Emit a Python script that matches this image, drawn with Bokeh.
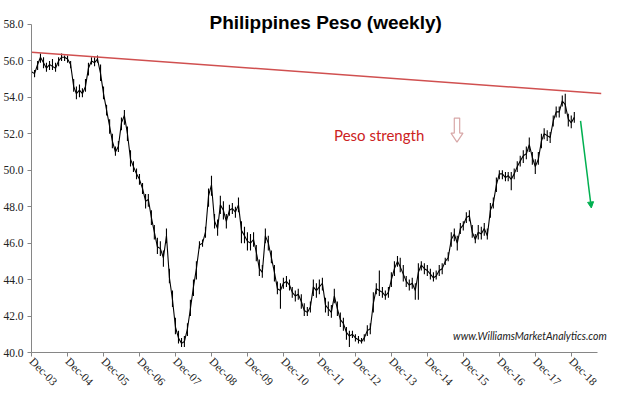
import math
import pandas as pd
from bokeh.plotting import figure
from bokeh.models import (FixedTicker, DatetimeTickFormatter, NumeralTickFormatter,
                          Label, Arrow, NormalHead, Range1d, ColumnDataSource)
from bokeh.embed import file_html
from bokeh.resources import INLINE

# ---------------- data (monthly) ----------------
start_month = "2003-12-01"
close = [
    55.4, 55.3, 55.8, 56.2, 55.9, 55.6, 55.8, 55.7, 55.6, 56.0, 56.2, 56.2,
    56.1, 55.8, 54.6, 54.2, 54.4, 54.2, 54.6, 55.6, 56.0, 55.9, 56.1, 55.3,
    54.2, 53.3, 52.4, 51.6, 51.0, 51.3, 52.6, 53.0, 52.0, 50.6, 50.2, 49.8,
    49.5, 49.0, 48.3, 48.4, 47.4, 46.6, 45.8, 45.7, 45.2, 46.4, 44.1, 42.9,
    41.4, 40.8, 40.5, 40.6, 41.3, 42.4, 43.6, 44.6, 45.9, 46.0, 46.6, 48.6,
    49.2, 47.2, 46.8, 48.1, 47.8, 47.2, 47.8, 47.9, 47.7, 48.1, 46.7, 46.4,
    46.1, 46.0, 46.2, 45.5, 44.6, 44.4, 46.4, 46.0, 45.2, 44.4, 43.5, 43.4,
    43.8, 43.9, 43.7, 43.3, 43.1, 43.2, 42.8, 42.3, 42.2, 42.5, 43.6, 43.4,
    43.6, 43.8, 42.6, 42.4, 42.2, 43.1, 42.4, 41.8, 41.6, 41.1, 40.9, 41.0,
    40.8, 40.7, 40.6, 40.8, 41.2, 41.3, 42.7, 43.5, 43.4, 43.3, 43.1, 43.3,
    44.0, 44.6, 45.0, 44.7, 44.3, 43.9, 43.7, 43.8, 43.4, 44.4, 44.8, 44.6,
    44.5, 44.3, 44.1, 44.2, 44.5, 44.6, 45.0, 45.2, 46.2, 46.5, 46.0, 46.8,
    47.0, 47.4, 47.5, 46.6, 46.2, 46.6, 46.5, 46.8, 46.4, 47.8, 48.2, 49.2,
    49.8, 49.8, 49.6, 49.7, 49.5, 49.8, 50.2, 50.5, 50.8, 50.9, 51.4, 50.7,
    50.2, 50.6, 51.6, 52.0, 51.9, 51.8, 52.7, 53.2, 53.2, 53.8, 53.6, 52.8,
    52.6, 52.9,
]
high = [
    55.6, 55.5, 56.0, 56.4, 56.2, 55.9, 56.0, 56.1, 55.9, 56.2, 56.4, 56.3,
    56.3, 56.0, 55.0, 54.6, 54.7, 54.5, 55.0, 55.9, 56.2, 56.2, 56.3, 55.8,
    54.6, 53.6, 52.8, 52.0, 51.3, 51.6, 52.9, 53.3, 52.4, 51.1, 50.5, 50.1,
    49.8, 49.3, 48.7, 48.7, 47.8, 47.0, 46.3, 46.1, 45.6, 46.8, 44.6, 43.4,
    41.9, 41.2, 40.8, 40.9, 41.6, 42.9, 44.0, 45.0, 46.1, 46.2, 46.9, 49.0,
    49.7, 47.6, 47.3, 48.6, 48.3, 47.6, 48.1, 48.2, 48.0, 48.5, 47.2, 46.9,
    46.6, 46.5, 46.6, 45.9, 45.1, 44.8, 46.8, 46.4, 45.6, 44.8, 43.9, 43.8,
    44.1, 44.2, 44.0, 43.6, 43.4, 43.5, 43.2, 42.7, 42.5, 42.8, 44.0, 43.8,
    44.0, 44.1, 43.0, 42.8, 42.6, 43.5, 42.8, 42.2, 41.9, 41.4, 41.2, 41.2,
    41.0, 40.9, 40.8, 41.0, 41.5, 41.6, 43.3, 43.8, 44.5, 43.6, 43.4, 43.6,
    44.4, 45.0, 45.3, 45.2, 44.8, 44.2, 44.0, 44.1, 43.8, 44.9, 45.0, 44.9,
    44.8, 44.6, 44.4, 44.5, 44.8, 44.9, 45.2, 45.5, 46.6, 46.8, 46.4, 47.1,
    47.2, 47.7, 47.8, 47.0, 46.5, 47.0, 46.9, 47.1, 46.8, 48.2, 48.5, 49.6,
    50.0, 50.0, 49.9, 49.9, 49.9, 50.1, 50.5, 50.8, 51.1, 51.3, 51.8, 51.0,
    50.6, 51.0, 52.0, 52.3, 52.2, 52.1, 53.0, 53.5, 53.5, 54.1, 54.2, 53.1,
    53.0, 53.2,
]
low = [
    55.2, 55.1, 55.5, 55.9, 55.6, 55.4, 55.5, 55.5, 55.4, 55.7, 56.0, 56.0,
    55.9, 55.6, 54.3, 53.9, 54.0, 54.0, 54.3, 55.2, 55.8, 55.7, 55.9, 54.9,
    53.9, 53.0, 52.0, 51.2, 50.8, 51.0, 52.2, 52.5, 51.6, 50.2, 49.9, 49.5,
    49.2, 48.7, 47.9, 48.0, 47.0, 46.2, 45.4, 45.3, 44.7, 46.0, 43.8, 42.5,
    41.0, 40.5, 40.3, 40.3, 40.9, 42.0, 43.1, 44.0, 45.7, 45.8, 46.3, 48.0,
    48.6, 46.8, 46.4, 47.6, 47.3, 46.8, 47.5, 47.6, 47.4, 47.7, 46.0, 46.0,
    45.6, 45.6, 45.8, 45.0, 44.2, 44.1, 46.0, 45.6, 44.9, 43.9, 43.2, 42.4,
    43.5, 43.6, 43.4, 43.0, 42.8, 42.9, 42.4, 42.0, 42.0, 42.2, 43.1, 43.0,
    43.2, 43.4, 42.2, 42.0, 41.9, 42.7, 42.0, 41.4, 41.2, 40.7, 40.3, 40.8,
    40.6, 40.5, 40.5, 40.6, 40.9, 41.0, 42.2, 43.2, 43.1, 43.0, 42.9, 43.0,
    43.6, 44.2, 44.7, 44.4, 43.9, 43.6, 43.4, 43.5, 42.9, 42.9, 44.5, 44.3,
    44.2, 44.0, 43.9, 44.0, 44.2, 44.3, 44.8, 45.0, 45.8, 46.1, 45.6, 46.5,
    46.7, 47.1, 47.2, 46.3, 46.0, 46.2, 46.2, 46.4, 46.2, 47.4, 47.9, 48.8,
    49.5, 49.5, 49.4, 49.4, 48.9, 49.5, 49.9, 50.2, 50.4, 50.6, 51.0, 50.3,
    49.8, 50.3, 51.2, 51.7, 51.6, 51.5, 52.4, 52.9, 52.9, 53.5, 53.1, 52.4,
    52.3, 52.6,
]
tick_labels = ["Dec-03", "Dec-04", "Dec-05", "Dec-06", "Dec-07", "Dec-08", "Dec-09", "Dec-10",
               "Dec-11", "Dec-12", "Dec-13", "Dec-14", "Dec-15", "Dec-16", "Dec-17", "Dec-18"]
y_ticks = [40, 42, 44, 46, 48, 50, 52, 54, 56, 58]

# trend line (resistance) and projected move, in (months after Dec-03, level)
trend_months = [0.0, 190.0]
trend_levels = [56.48, 54.21]
proj_months = [183.1, 186.7]
proj_levels = [52.71, 47.93]

# ---------------------------------------------------------------------------
t0 = pd.Timestamp(start_month)
MONTH_MS = 365.25 / 12 * 86400000.0


def mdate(m):
    return t0.timestamp() * 1000.0 + m * MONTH_MS


dates = pd.date_range(start_month, periods=len(close), freq="MS")
src = ColumnDataSource(dict(date=dates, close=close, high=high, low=low))

tick_ms = [pd.Timestamp("20" + lab[-2:] + "-12-01").timestamp() * 1000.0 for lab in tick_labels]

p = figure(width=640, height=394, output_backend="svg", toolbar_location=None,
           x_axis_type="datetime",
           x_range=Range1d(mdate(0), mdate(203.1)), y_range=Range1d(40, 59.313),
           min_border_left=31, min_border_right=0, min_border_top=0, min_border_bottom=41)
p.outline_line_color = None
p.xgrid.visible = False
p.ygrid.visible = False
p.background_fill_color = "white"
p.border_fill_color = "white"

ax_col = "#868686"
for ax in (p.xaxis[0], p.yaxis[0]):
    ax.axis_line_color = ax_col
    ax.major_tick_line_color = ax_col
    ax.minor_tick_line_color = None
    ax.major_tick_out = 4
    ax.major_tick_in = 0
    ax.major_label_text_font = "Liberation Serif"
    ax.major_label_text_font_size = "11.5px"
    ax.major_label_text_color = "#222222"

p.yaxis.ticker = FixedTicker(ticks=y_ticks)
p.yaxis.formatter = NumeralTickFormatter(format="0.0")
p.yaxis.major_label_standoff = 4
p.yaxis.bounds = (40, 58)

p.xaxis.ticker = FixedTicker(ticks=tick_ms)
p.xaxis.formatter = DatetimeTickFormatter(days="%b-%y", months="%b-%y", years="%b-%y")
p.xaxis.major_label_orientation = -math.pi / 4
p.xaxis.major_label_standoff = 3
p.xaxis.bounds = (mdate(0), mdate(188.6))

# price bars + line
p.segment(x0="date", y0="low", x1="date", y1="high", source=src, line_color="black", line_width=1.1)
p.line(x="date", y="close", source=src, line_color="black", line_width=1.1)

# resistance trend line
p.line(x=[mdate(m) for m in trend_months], y=trend_levels, line_color="#D05050", line_width=1.5)

# green projection arrow
p.add_layout(Arrow(end=NormalHead(size=6, fill_color="#00B050", line_color="#00B050"),
                   x_start=mdate(proj_months[0]), y_start=proj_levels[0],
                   x_end=mdate(proj_months[1]), y_end=proj_levels[1],
                   line_color="#00B050", line_width=1.5))

# hollow down arrow (annotation)
ac, hs, hh = 141.9, 0.9, 2.0
top, neck, tip = 52.86, 52.04, 51.54
p.patch(x=[mdate(ac - hs), mdate(ac + hs), mdate(ac + hs), mdate(ac + hh), mdate(ac),
           mdate(ac - hh), mdate(ac - hs)],
        y=[top, top, neck, neck, tip, neck, neck],
        fill_color="white", line_color="#D8A8A8", line_width=1.2)

# texts
p.add_layout(Label(x=mdate(98.1), y=58.126, text="Philippines Peso (weekly)", text_align="center",
                   text_baseline="alphabetic", text_font="Liberation Sans", text_font_style="bold",
                   text_font_size="19px", text_color="black"))
p.add_layout(Label(x=mdate(100.9), y=51.93, text="Peso strength", text_align="left",
                   text_baseline="alphabetic", text_font="Lato", text_font_size="15px",
                   text_color="#CC2222"))
p.add_layout(Label(x=mdate(140.6), y=40.88, text="www.WilliamsMarketAnalytics.com", text_align="left",
                   text_baseline="alphabetic", text_font="Lato", text_font_style="italic",
                   text_font_size="10.5px", text_color="#1a1a1a"))

with open("out.html", "w") as f:
    f.write(file_html(p, INLINE))
